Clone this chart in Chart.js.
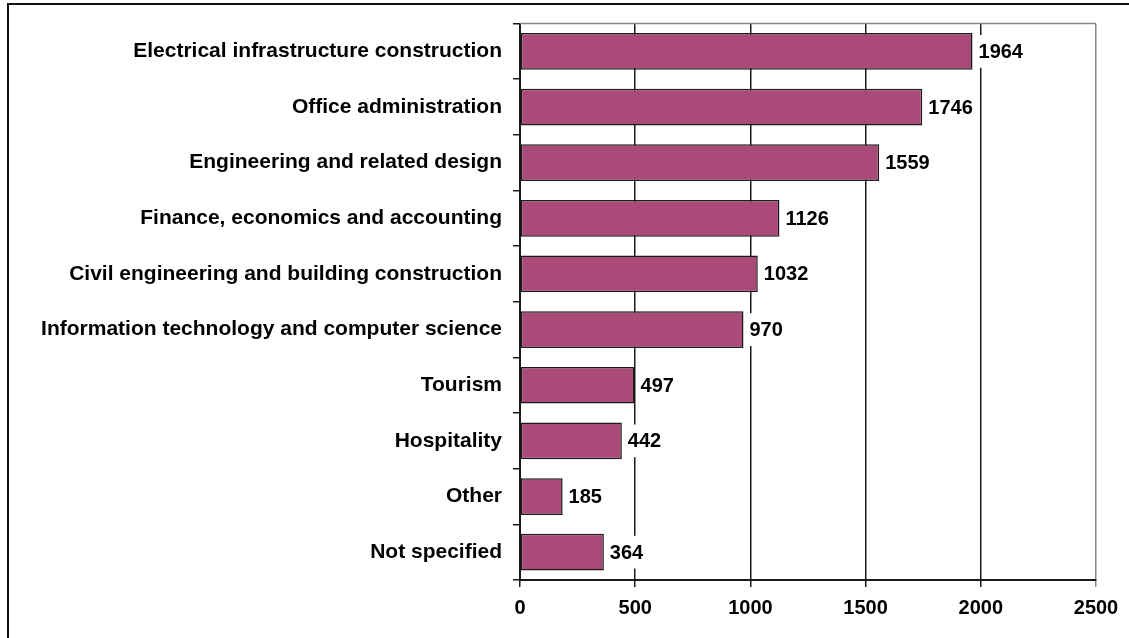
<!DOCTYPE html>
<html>
<head>
<meta charset="utf-8">
<title>Occupations</title>
<script src="https://cdn.jsdelivr.net/npm/chart.js@4"></script>
<style>
  html, body { margin: 0; padding: 0; background: #fff; }
  canvas { display: block; }
</style>
</head>
<body>
<canvas id="myChart" width="1129" height="638"></canvas>
<script>
let categories = [
    "Electrical infrastructure construction",
    "Office administration",
    "Engineering and related design",
    "Finance, economics and accounting",
    "Civil engineering and building construction",
    "Information technology and computer science",
    "Tourism",
    "Hospitality",
    "Other",
    "Not specified"
];
let counts = [1964, 1746, 1559, 1126, 1032, 970, 497, 442, 185, 364];
let xTicks = [0, 500, 1000, 1500, 2000, 2500];

const barColor = "#a94a78";
const fontFamily = "'Liberation Sans', Arial, sans-serif";

// frame around the figure and gray top edge of the plot
const framePlugin = {
    id: "frame",
    beforeDraw(chart) {
        const ctx = chart.ctx;
        ctx.save();
        ctx.fillStyle = "#fff";
        ctx.fillRect(0, 0, chart.width, chart.height);
        ctx.strokeStyle = "#111";
        ctx.lineWidth = 2;
        ctx.beginPath();
        ctx.moveTo(8, chart.height + 5);
        ctx.lineTo(8, 4);
        ctx.lineTo(chart.width + 5, 4);
        ctx.stroke();
        ctx.restore();
    },
    beforeDatasetsDraw(chart) {
        const a = chart.chartArea;
        const ctx = chart.ctx;
        ctx.save();
        ctx.strokeStyle = "#888";
        ctx.lineWidth = 1.5;
        ctx.beginPath();
        ctx.moveTo(a.left, a.top);
        ctx.lineTo(a.right, a.top);
        ctx.stroke();
        ctx.restore();
    }
};

// value labels at the end of each bar, on a white box
const valueLabels = {
    id: "valueLabels",
    afterDatasetsDraw(chart) {
        const ctx = chart.ctx;
        const meta = chart.getDatasetMeta(0);
        ctx.save();
        ctx.font = "bold 20px " + fontFamily;
        ctx.textBaseline = "middle";
        meta.data.forEach((bar, i) => {
            const txt = String(counts[i]);
            const w = ctx.measureText(txt).width;
            const x = bar.x + 6;
            ctx.fillStyle = "#fff";
            ctx.fillRect(x - 3, bar.y - bar.height / 2 + 2, w + 6, bar.height - 4);
            ctx.fillStyle = "#000";
            ctx.fillText(txt, x, bar.y + 1);
        });
        ctx.restore();
    }
};

new Chart("myChart", {
    type: "bar",
    data: {
        labels: categories,
        datasets: [{
            data: counts,
            backgroundColor: barColor,
            borderColor: "#1a1a1a",
            borderWidth: 1.5,
            borderSkipped: false,
            barPercentage: 0.66,
            categoryPercentage: 1
        }]
    },
    options: {
        indexAxis: "y",
        responsive: false,
        animation: false,
        layout: { padding: { top: 21, right: 33, bottom: 0, left: 0 } },
        plugins: {
            legend: { display: false },
            tooltip: { enabled: false }
        },
        scales: {
            x: {
                min: 0,
                max: 2500,
                afterFit: (scale) => { scale.height = 58; },
                afterBuildTicks: (scale) => {
                    scale.ticks = xTicks.map(v => ({ value: v }));
                },
                border: { display: true, color: "#1a1a1a", width: 2 },
                grid: {
                    color: (c) => (c.tick && c.tick.value === 2500) ? "#888" : "#1a1a1a",
                    lineWidth: 1.5,
                    tickLength: 7
                },
                ticks: {
                    color: "#000",
                    padding: 9,
                    callback: (v) => String(v),
                    font: { family: fontFamily, size: 20, weight: "bold" }
                }
            },
            y: {
                afterFit: (scale) => { scale.width = 520; },
                border: { display: true, color: "#1a1a1a", width: 2 },
                grid: {
                    drawOnChartArea: false,
                    color: "#1a1a1a",
                    lineWidth: 1.5,
                    tickLength: 7
                },
                ticks: {
                    color: "#000",
                    padding: 11,
                    font: { family: fontFamily, size: 21, weight: "bold" }
                }
            }
        }
    },
    plugins: [framePlugin, valueLabels]
});
</script>
</body>
</html>
